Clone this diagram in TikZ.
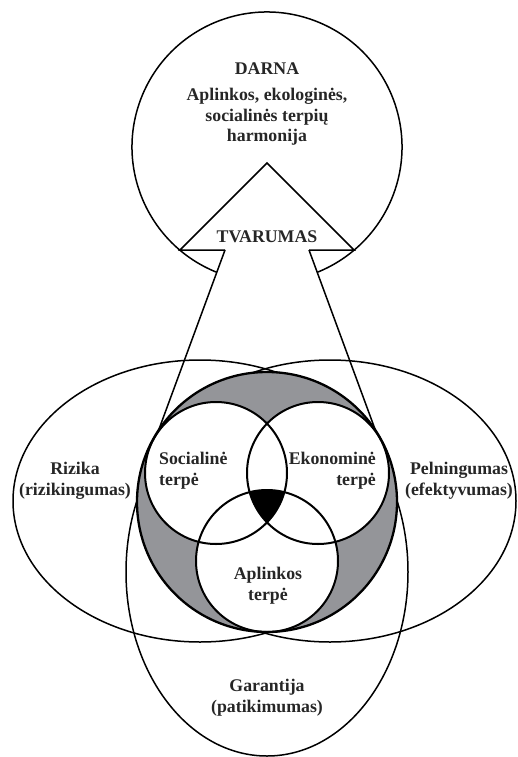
\documentclass[tikz,border=0pt]{standalone}
\usepackage{fontspec}
\setmainfont{Liberation Serif}
\definecolor{ringgrey}{RGB}{148,149,153}
\tikzset{
  thinline/.style={line width=1.5pt, black},
  smallcirc/.style={line width=2pt, black},
  ringline/.style={line width=2.3pt, black},
  lbl/.style={font=\fontsize{17.8}{20.5}\selectfont\bfseries, inner sep=0pt, text=black!85},
}
\begin{document}
\begin{tikzpicture}[x=1pt,y=-1pt]
\useasboundingbox (0,0) rectangle (518,757);
% key coordinates
\coordinate (C0) at (267,147);
\coordinate (apex) at (267,163);
\coordinate (Lc) at (180,250);
\coordinate (Rc) at (354,250);
\coordinate (NL) at (225,250);
\coordinate (NR) at (309,250);
\coordinate (endL) at (155,440);
\coordinate (endR) at (379,440);
\coordinate (G) at (267,502);
\coordinate (S) at (216,473);
\coordinate (E) at (318,473);
\coordinate (Ap) at (267,561);
% big ellipses
\draw[thinline] (200,501) ellipse [x radius=187, y radius=141];
\draw[thinline] (330,501) ellipse [x radius=186, y radius=141];
\draw[thinline] (267,572) ellipse [x radius=141, y radius=184];
% top circle with the notch
\draw[thinline] (C0) ++(111.8:135) arc[start angle=111.8, end angle=428.2, radius=135];
\draw[thinline, line join=miter] (NL) -- (Lc) -- (apex) -- (Rc) -- (NR);
\draw[thinline] (NL) -- (endL);
\draw[thinline] (NR) -- (endR);
% grey ring
\fill[ringgrey] (G) circle[radius=130];
\fill[white] (S) circle[radius=71];
\fill[white] (E) circle[radius=71];
\fill[white] (Ap) circle[radius=71];
\begin{scope}
  \clip (S) circle[radius=71];
  \clip (E) circle[radius=71];
  \fill[black] (Ap) circle[radius=71];
\end{scope}
\draw[smallcirc] (S) circle[radius=71];
\draw[smallcirc] (E) circle[radius=71];
\draw[smallcirc] (Ap) circle[radius=71];
\draw[ringline] (G) circle[radius=130];
% texts (base anchor = baseline of the last line)
\node[lbl, anchor=base] (darna) at (267,75) {DARNA};
\node[lbl, anchor=base, align=center] (harm) at (267,142) {Aplinkos, ekologinės,\\socialinės terpių\\harmonija};
\node[lbl, anchor=base] (tvar) at (267,242) {TVARUMAS};
\node[lbl, anchor=base, align=center] (riz) at (75,495) {Rizika\\(rizikingumas)};
\node[lbl, anchor=base, align=center] (peln) at (459,495) {Pelningumas\\(efektyvumas)};
\node[lbl, anchor=base west, align=left] (soc) at (159,485) {Socialinė\\terpė};
\node[lbl, anchor=base east, align=right] (eko) at (376,485) {Ekonominė\\terpė};
\node[lbl, anchor=base, align=center] (apl) at (268,600) {Aplinkos\\terpė};
\node[lbl, anchor=base, align=center] (gar) at (267,712) {Garantija\\(patikimumas)};
\end{tikzpicture}
\end{document}
